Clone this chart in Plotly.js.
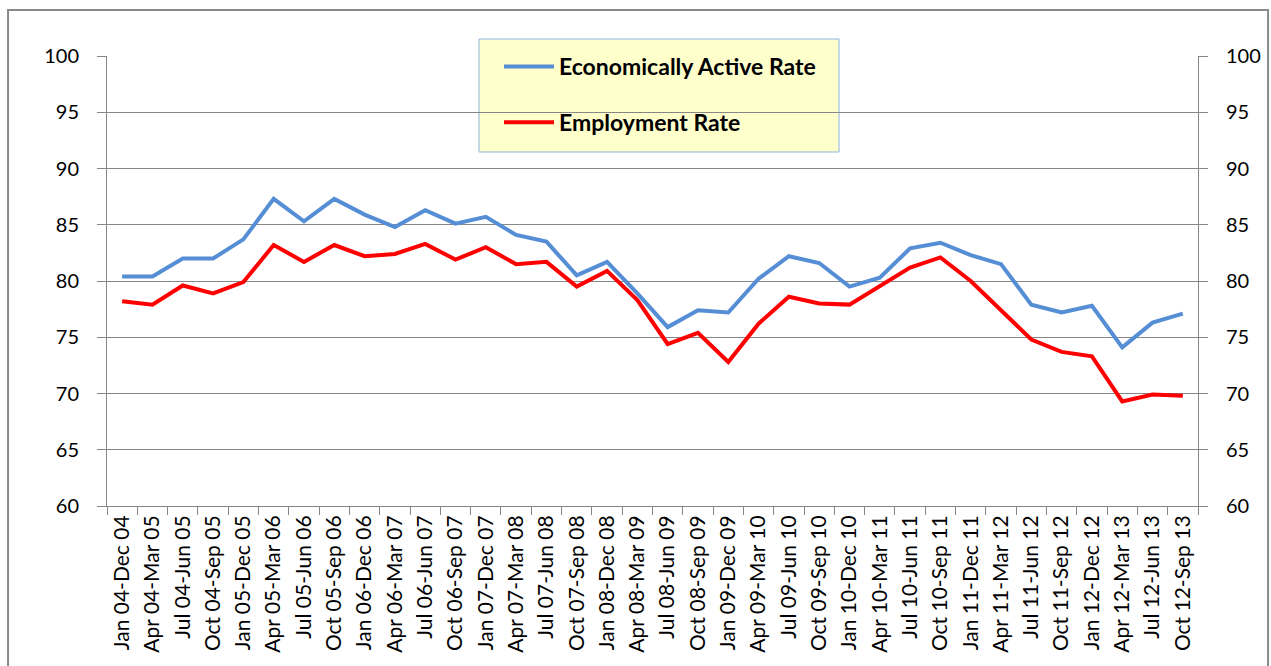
<!DOCTYPE html>
<html>
<head>
<meta charset="utf-8">
<script src="https://cdn.plot.ly/plotly-3.0.1.min.js"></script>
<style>html,body{margin:0;padding:0;background:#fff;}#chart{width:1271px;height:666px;}</style>
</head>
<body>
<div id="chart"></div>
<script>
const categories = [
  "Jan 04-Dec 04","Apr 04-Mar 05","Jul 04-Jun 05","Oct 04-Sep 05",
  "Jan 05-Dec 05","Apr 05-Mar 06","Jul 05-Jun 06","Oct 05-Sep 06",
  "Jan 06-Dec 06","Apr 06-Mar 07","Jul 06-Jun 07","Oct 06-Sep 07",
  "Jan 07-Dec 07","Apr 07-Mar 08","Jul 07-Jun 08","Oct 07-Sep 08",
  "Jan 08-Dec 08","Apr 08-Mar 09","Jul 08-Jun 09","Oct 08-Sep 09",
  "Jan 09-Dec 09","Apr 09-Mar 10","Jul 09-Jun 10","Oct 09-Sep 10",
  "Jan 10-Dec 10","Apr 10-Mar 11","Jul 10-Jun 11","Oct 10-Sep 11",
  "Jan 11-Dec 11","Apr 11-Mar 12","Jul 11-Jun 12","Oct 11-Sep 12",
  "Jan 12-Dec 12","Apr 12-Mar 13","Jul 12-Jun 13","Oct 12-Sep 13"
];
const economicallyActiveRate = [
  80.4, 80.4, 82.0, 82.0, 83.7, 87.3, 85.3, 87.3,
  85.9, 84.8, 86.3, 85.1, 85.7, 84.1, 83.5, 80.5,
  81.7, 78.9, 75.9, 77.4, 77.2, 80.2, 82.2, 81.6,
  79.5, 80.3, 82.9, 83.4, 82.3, 81.5, 77.9, 77.2,
  77.8, 74.1, 76.3, 77.1
];
const employmentRate = [
  78.2, 77.9, 79.6, 78.9, 79.9, 83.2, 81.7, 83.2,
  82.2, 82.4, 83.3, 81.9, 83.0, 81.5, 81.7, 79.5,
  80.9, 78.3, 74.4, 75.4, 72.8, 76.2, 78.6, 78.0,
  77.9, 79.6, 81.2, 82.1, 80.0, 77.4, 74.8, 73.7,
  73.3, 69.3, 69.9, 69.8
];
const yTicks = [60, 65, 70, 75, 80, 85, 90, 95, 100];

const FONT = "Lato, 'Open Sans', sans-serif";

const traces = [
  {
    x: categories, y: economicallyActiveRate, type: "scatter", mode: "lines",
    name: "Economically Active Rate", legendgroup: "a",
    line: {color: "#558ED5", width: 4}
  },
  {
    x: categories, y: employmentRate, type: "scatter", mode: "lines",
    name: "Employment Rate", legendgroup: "b", yaxis: "y2",
    line: {color: "#FF0000", width: 4}
  }
];

const yCommon = {
  range: [60, 100], tickvals: yTicks, ticktext: yTicks.map(String),
  ticks: "outside", ticklen: 9, tickcolor: "#868686", tickwidth: 1,
  showline: true, linecolor: "#868686", linewidth: 1,
  tickfont: {family: FONT, size: 20, color: "#000"},
  zeroline: false, fixedrange: true
};

const layout = {
  width: 1271, height: 666,
  margin: {l: 107, r: 73, t: 56, b: 160},
  paper_bgcolor: "#ffffff", plot_bgcolor: "#ffffff",
  showlegend: true,
  legend: {
    x: 0.3593, y: 1.0245, xanchor: "left", yanchor: "top",
    bgcolor: "rgba(0,0,0,0)", borderwidth: 0,
    font: {family: FONT, size: 23, color: "#000", weight: "bold"},
    traceorder: "grouped", tracegroupgap: 23, itemwidth: 50
  },
  xaxis: {
    type: "category", tickson: "boundaries", range: [-0.5, categories.length - 0.5],
    ticks: "outside", ticklen: 8, tickcolor: "#868686",
    showline: true, linecolor: "#868686", linewidth: 1,
    tickangle: -90, showgrid: false,
    tickfont: {family: FONT, size: 21, color: "#000"},
    fixedrange: true
  },
  yaxis: Object.assign({}, yCommon, {
    side: "left", showgrid: true, gridcolor: "#878787", gridwidth: 1,
    ticklabelstandoff: 14
  }),
  yaxis2: Object.assign({}, yCommon, {
    side: "right", overlaying: "y", showgrid: false,
    ticklabelstandoff: 14
  }),
  shapes: [
    {type: "rect", xref: "paper", yref: "paper",
     x0: 0.341, x1: 0.671, y0: 0.7867, y1: 1.0378,
     fillcolor: "#FFFFCC", line: {color: "#8EB4E3", width: 1}, layer: "below"},
    {type: "rect", xref: "paper", yref: "paper",
     x0: -0.0907, x1: 1.0642, y0: -0.6, y1: 1.1022,
     fillcolor: "rgba(0,0,0,0)", line: {color: "#8A8A8A", width: 2}}
  ]
};

Plotly.newPlot("chart", traces, layout, {displayModeBar: false, staticPlot: true});
</script>
</body>
</html>
